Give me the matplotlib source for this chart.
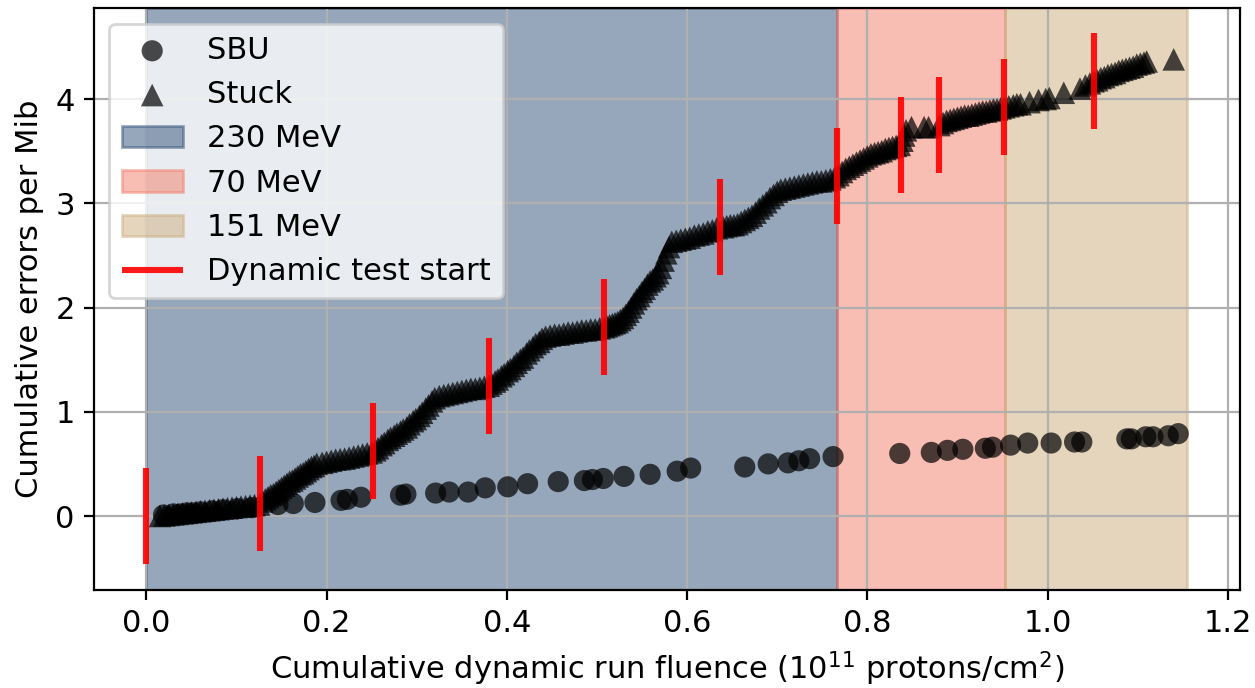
import matplotlib
matplotlib.use("Agg")
import matplotlib.pyplot as plt

# ---- data ----
stuck_x = [
    # slow start
    0.015, 0.020, 0.025, 0.030, 0.035, 0.040, 0.045, 0.050, 0.055, 0.060, 0.065, 0.070,
    0.075, 0.080, 0.085, 0.090, 0.095, 0.100, 0.105, 0.110, 0.115, 0.120, 0.125,
    # rise 1
    0.129, 0.132, 0.135, 0.138, 0.141, 0.144, 0.147, 0.150, 0.153, 0.156, 0.159, 0.162,
    0.165, 0.168, 0.171, 0.174, 0.177, 0.180, 0.183, 0.186, 0.189,
    0.195, 0.200, 0.205, 0.210, 0.215, 0.220, 0.225, 0.230, 0.235, 0.240, 0.245, 0.250,
    # rise 2
    0.254, 0.257, 0.261, 0.264, 0.268, 0.271, 0.275, 0.278, 0.282, 0.285, 0.289, 0.292,
    0.296, 0.299, 0.303, 0.306, 0.310, 0.313, 0.317, 0.320,
    0.325, 0.330, 0.335, 0.340, 0.345, 0.350, 0.355, 0.360, 0.365, 0.370, 0.375, 0.380,
    # rise 3
    0.383, 0.387, 0.390, 0.394, 0.397, 0.401, 0.404, 0.408, 0.411, 0.415, 0.418, 0.422,
    0.425, 0.429, 0.432, 0.436, 0.439, 0.443,
    0.448, 0.453, 0.458, 0.463, 0.468, 0.473, 0.478, 0.483, 0.488, 0.493, 0.498, 0.503, 0.508,
    # rise 4
    0.511, 0.514, 0.517, 0.520, 0.523, 0.526, 0.529, 0.532, 0.535, 0.538, 0.541, 0.544,
    0.547, 0.550, 0.553, 0.556, 0.559, 0.562, 0.565, 0.568, 0.571, 0.574, 0.577, 0.580, 0.583,
    0.588, 0.593, 0.598, 0.603, 0.608, 0.613, 0.618, 0.623, 0.628, 0.633,
    # rise 5
    0.640, 0.644, 0.648, 0.652, 0.656, 0.660, 0.664, 0.668, 0.672, 0.676, 0.680, 0.684,
    0.688, 0.692, 0.696, 0.700, 0.704,
    0.709, 0.714, 0.719, 0.724, 0.729, 0.734, 0.739, 0.744, 0.749, 0.754, 0.759, 0.764,
    # 70 MeV
    0.768, 0.772, 0.776, 0.780, 0.784, 0.788, 0.792, 0.796, 0.800, 0.804, 0.808, 0.812,
    0.816, 0.820, 0.824, 0.828, 0.832, 0.836,
    0.839, 0.841, 0.843, 0.849, 0.863, 0.868, 0.880,
    0.884, 0.888, 0.892, 0.896, 0.900, 0.904, 0.908, 0.912, 0.916, 0.920, 0.924, 0.928,
    0.932, 0.936, 0.940, 0.944, 0.948, 0.952,
    # 151 MeV
    0.957, 0.962, 0.966, 0.970, 0.980, 0.990, 0.998, 1.002, 1.018, 1.036, 1.042, 1.047, 1.051,
    1.055, 1.059, 1.063, 1.067, 1.071, 1.075, 1.079, 1.083, 1.087, 1.091, 1.095, 1.099,
    1.103, 1.107, 1.110,
    1.140]
stuck_y = [
    0.00, 0.005, 0.01, 0.015, 0.02, 0.025, 0.03, 0.035, 0.04, 0.045, 0.05, 0.055,
    0.06, 0.065, 0.07, 0.075, 0.08, 0.085, 0.09, 0.095, 0.10, 0.105, 0.11,
    0.14, 0.16, 0.18, 0.20, 0.21, 0.23, 0.25, 0.27, 0.29, 0.31, 0.33, 0.34,
    0.36, 0.38, 0.40, 0.41, 0.43, 0.45, 0.47, 0.48, 0.50,
    0.51, 0.52, 0.53, 0.54, 0.545, 0.55, 0.56, 0.57, 0.58, 0.59, 0.60, 0.61,
    0.63, 0.65, 0.68, 0.70, 0.73, 0.75, 0.77, 0.79, 0.81, 0.83, 0.85, 0.88,
    0.91, 0.93, 0.96, 0.99, 1.03, 1.06, 1.10, 1.13,
    1.15, 1.16, 1.17, 1.18, 1.19, 1.20, 1.21, 1.22, 1.22, 1.23, 1.24, 1.25,
    1.27, 1.29, 1.31, 1.34, 1.36, 1.39, 1.41, 1.44, 1.47, 1.50, 1.52, 1.56,
    1.59, 1.62, 1.65, 1.67, 1.70, 1.72,
    1.73, 1.74, 1.74, 1.75, 1.76, 1.76, 1.77, 1.78, 1.78, 1.79, 1.79, 1.80, 1.81,
    1.82, 1.83, 1.84, 1.85, 1.86, 1.88, 1.90, 1.93, 1.96, 2.00, 2.04, 2.08,
    2.11, 2.15, 2.18, 2.22, 2.25, 2.27, 2.30, 2.33, 2.38, 2.45, 2.52, 2.58, 2.63,
    2.64, 2.65, 2.66, 2.67, 2.69, 2.70, 2.71, 2.73, 2.74, 2.76,
    2.77, 2.78, 2.79, 2.79, 2.80, 2.82, 2.84, 2.86, 2.88, 2.91, 2.95, 2.98,
    3.01, 3.05, 3.08, 3.11, 3.13,
    3.14, 3.15, 3.16, 3.17, 3.18, 3.19, 3.20, 3.21, 3.21, 3.22, 3.23, 3.25,
    3.27, 3.30, 3.33, 3.35, 3.37, 3.39, 3.41, 3.43, 3.45, 3.47, 3.48, 3.49,
    3.50, 3.52, 3.53, 3.54, 3.55, 3.56,
    3.60, 3.65, 3.70, 3.73, 3.73, 3.73, 3.75,
    3.77, 3.79, 3.80, 3.81, 3.82, 3.83, 3.84, 3.84, 3.85, 3.86, 3.87, 3.88,
    3.88, 3.89, 3.90, 3.90, 3.91, 3.92,
    3.93, 3.94, 3.95, 3.95, 3.97, 3.99, 4.00, 4.01, 4.06, 4.10, 4.13, 4.15, 4.17,
    4.18, 4.20, 4.21, 4.23, 4.24, 4.25, 4.27, 4.28, 4.29, 4.30, 4.31, 4.33,
    4.34, 4.35, 4.36,
    4.38]

sbu_x = [0.019, 0.030, 0.038, 0.045, 0.052, 0.060, 0.073, 0.085, 0.101, 0.117,
         0.146, 0.163, 0.187, 0.216, 0.223, 0.238, 0.282, 0.288,
         0.321, 0.336, 0.357, 0.376, 0.401, 0.423, 0.457, 0.486, 0.495, 0.507,
         0.530, 0.559, 0.589, 0.604,
         0.664, 0.690, 0.712, 0.724, 0.736, 0.762,
         0.836, 0.871, 0.889, 0.906, 0.931, 0.939, 0.959, 0.978, 1.004,
         1.030, 1.038, 1.088, 1.093, 1.109, 1.117, 1.134, 1.145]
sbu_y = [0.01, 0.02, 0.02, 0.03, 0.03, 0.04, 0.05, 0.06, 0.07, 0.08,
         0.11, 0.12, 0.13, 0.15, 0.16, 0.18, 0.20, 0.21,
         0.22, 0.23, 0.23, 0.27, 0.28, 0.31, 0.33, 0.34, 0.35, 0.36,
         0.38, 0.40, 0.43, 0.46,
         0.47, 0.50, 0.51, 0.53, 0.55, 0.57,
         0.60, 0.61, 0.63, 0.64, 0.65, 0.66, 0.68, 0.70, 0.70,
         0.71, 0.71, 0.74, 0.74, 0.76, 0.76, 0.77, 0.79]

test_start_x = [0.0, 0.126, 0.252, 0.380, 0.508, 0.636, 0.766, 0.837, 0.880, 0.952, 1.051]
test_start_y = [0.0, 0.12, 0.62, 1.25, 1.81, 2.77, 3.26, 3.56, 3.75, 3.92, 4.17]

span_edges = [0.0, 0.766, 0.953, 1.155]
span_labels = ["230 MeV", "70 MeV", "151 MeV"]
span_colors = ["#315179", "#f27d69", "#cdad7d"]

# ---- plot ----
plt.rcParams["font.size"] = 11
fig = plt.figure(figsize=(6.275, 3.44), dpi=200)
ax = fig.add_axes([0.075, 0.1424, 0.913, 0.8455])

for i, lab in enumerate(span_labels):
    ax.axvspan(span_edges[i], span_edges[i + 1], color=span_colors[i], alpha=0.5, label=lab)

ax.scatter(sbu_x, sbu_y, s=58, marker="o", color="black", alpha=0.7,
           edgecolors="none", label="SBU", zorder=3)
ax.scatter(stuck_x, stuck_y, s=66, marker="^", color="black", alpha=0.7,
           edgecolors="none", label="Stuck", zorder=3)

half = 0.46
ax.vlines(test_start_x, [y - half for y in test_start_y], [y + half for y in test_start_y],
          colors="red", linewidth=2.2, alpha=0.9, label="Dynamic test start", zorder=4)

ax.grid(True)
ax.set_xlim(-0.058, 1.2135)
ax.set_ylim(-0.71, 4.87)
ax.set_yticks([0, 1, 2, 3, 4])
ax.set_xlabel(r"Cumulative dynamic run fluence ($10^{11}$ protons/cm$^2$)")
ax.set_ylabel("Cumulative errors per Mib")

handles, labels = ax.get_legend_handles_labels()
order = [labels.index(l) for l in ["SBU", "Stuck", "230 MeV", "70 MeV", "151 MeV", "Dynamic test start"]]
ax.legend([handles[i] for i in order], [labels[i] for i in order], loc="upper left")

fig.savefig("out.png", dpi=200)
